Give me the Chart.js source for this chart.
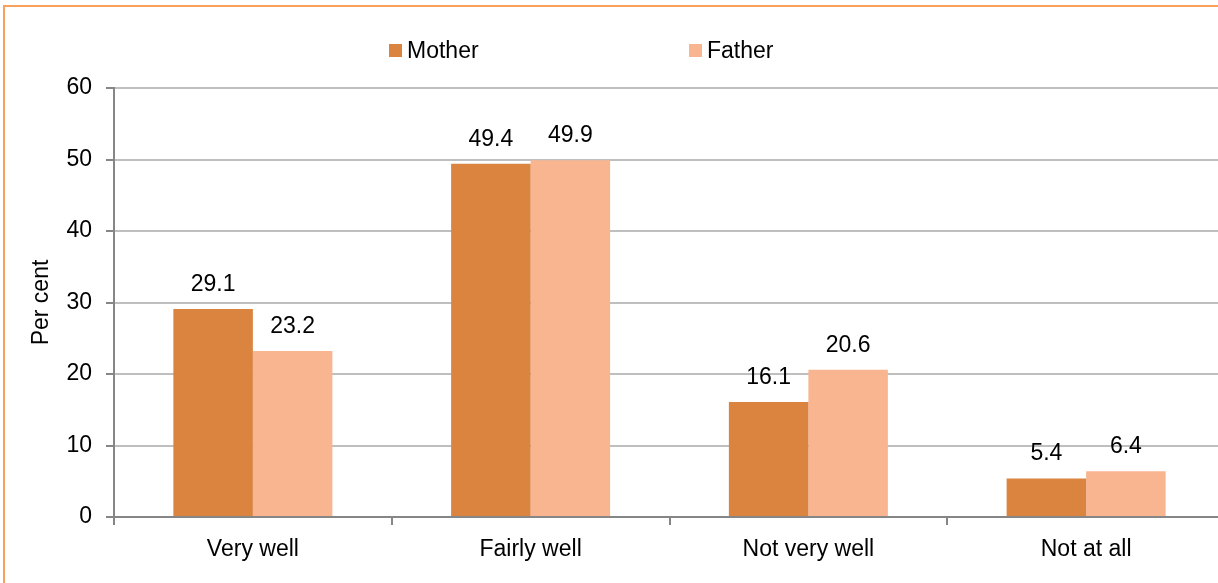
<!DOCTYPE html>
<html>
<head>
<meta charset="utf-8">
<script src="https://cdn.jsdelivr.net/npm/chart.js@4/dist/chart.umd.min.js"></script>
<style>
html,body{margin:0;padding:0;background:#fff;overflow:hidden;width:1218px;height:583px}
#frame{position:absolute;left:3px;top:5px;width:3000px;height:3000px;border:2px solid #f9a05a;box-sizing:border-box}
#chart{position:absolute;left:0;top:0}
</style>
</head>
<body>
<div id="frame"></div>
<canvas id="chart" width="1240" height="600"></canvas>
<script>
const categories = ["Very well","Fairly well","Not very well","Not at all"]
const motherValues = [29.1,49.4,16.1,5.4]
const fatherValues = [23.2,49.9,20.6,6.4]
const seriesNames = ["Mother","Father"]
const seriesColors = ["#db843f","#f8b590"]

const FONT = "'Liberation Sans', Arial, sans-serif"

// values printed above each bar
const valueLabels = {
id:"valueLabels",
afterDatasetsDraw(chart){
const ctx = chart.ctx
ctx.save()
ctx.font = "23px " + FONT
ctx.fillStyle = "#000"
ctx.textAlign = "center"
ctx.textBaseline = "alphabetic"
chart.data.datasets.forEach((ds,i)=>{
chart.getDatasetMeta(i).data.forEach((bar,j)=>{
ctx.fillText(ds.data[j].toFixed(1), bar.x, bar.y - 18)
})
})
ctx.restore()
}
}

// legend laid out with wide spacing between the two entries
const wideLegend = {
id:"wideLegend",
afterDraw(chart){
const ctx = chart.ctx
const startX = [389,689]
ctx.save()
ctx.font = "23px " + FONT
ctx.textBaseline = "alphabetic"
ctx.textAlign = "left"
chart.data.datasets.forEach((ds,i)=>{
ctx.fillStyle = ds.backgroundColor
ctx.fillRect(startX[i],44,13,13)
ctx.fillStyle = "#000"
ctx.fillText(ds.label, startX[i]+18, 58)
})
ctx.restore()
}
}

const ctx = document.getElementById("chart").getContext("2d")

new Chart(ctx,{
type:"bar",
data:{
labels:categories,
datasets:[
{label:seriesNames[0],data:motherValues,backgroundColor:seriesColors[0]},
{label:seriesNames[1],data:fatherValues,backgroundColor:seriesColors[1]}
]
},
options:{
responsive:false,
animation:false,
datasets:{bar:{categoryPercentage:0.5725,barPercentage:1}},
layout:{padding:{top:88,right:15,bottom:23,left:0}},
plugins:{legend:{display:false},tooltip:{enabled:false}},
scales:{
x:{
afterFit(scale){scale.height = 60},
grid:{offset:true,drawOnChartArea:false,drawTicks:true,tickLength:8,tickColor:"#868686",lineWidth:2},
border:{color:"#868686",width:2},
ticks:{color:"#000",font:{family:FONT,size:23},padding:11,maxRotation:0}
},
y:{
min:0,max:60,
afterFit(scale){scale.width = 114},
ticks:{stepSize:10,color:"#000",font:{family:FONT,size:23},padding:14},
grid:{color:"#bfbfbf",lineWidth:2,tickLength:8,tickColor:"#868686"},
border:{color:"#868686",width:2},
title:{display:true,text:"Per cent",color:"#000",font:{family:FONT,size:23},padding:{top:28,bottom:0}}
}
}
},
plugins:[valueLabels,wideLegend]
})
</script>
</body>
</html>
